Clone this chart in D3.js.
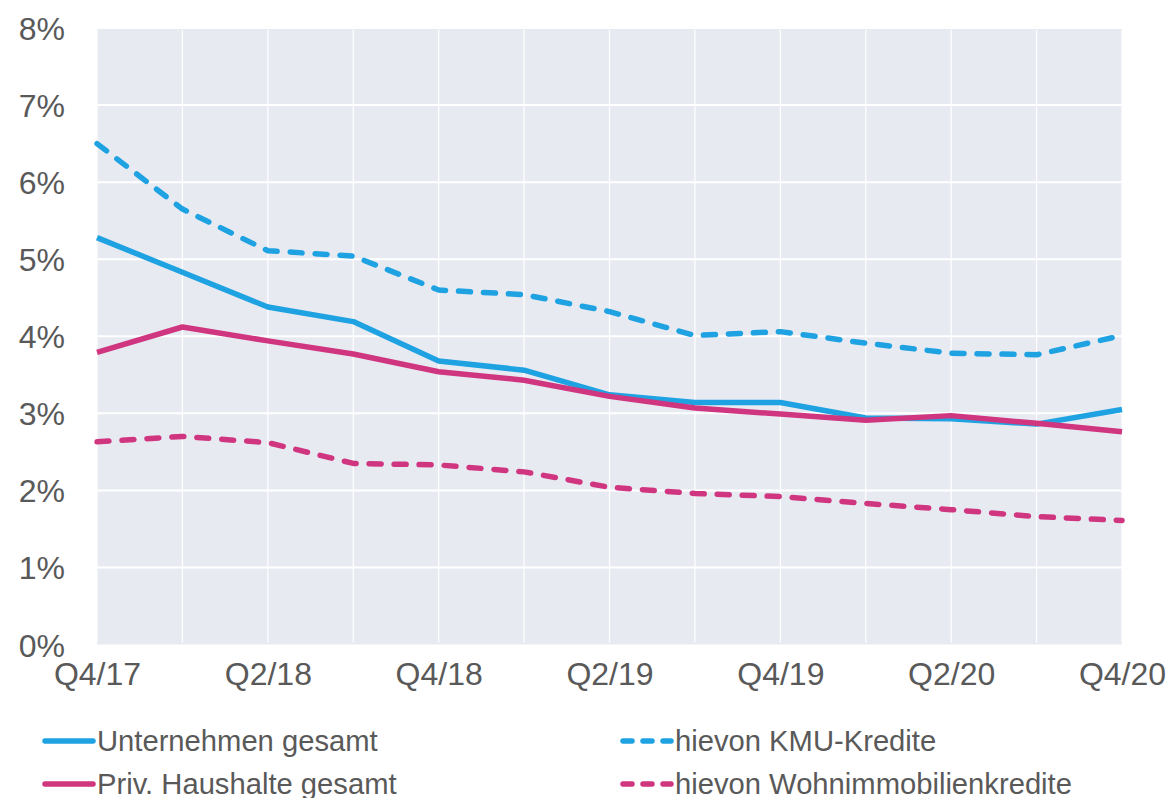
<!DOCTYPE html>
<html><head><meta charset="utf-8">
<script src="https://cdn.jsdelivr.net/npm/d3@7"></script>
<style>
html,body{margin:0;padding:0;background:#fff;}
svg{display:block;font-family:"Liberation Sans",Arial,sans-serif;}
</style></head>
<body><svg id="c" width="1171" height="798"></svg>
<script>
const categories = ["Q4/17","Q1/18","Q2/18","Q3/18","Q4/18","Q1/19","Q2/19","Q3/19","Q4/19","Q1/20","Q2/20","Q3/20","Q4/20"];
const tickLabels = ["Q4/17","Q2/18","Q4/18","Q2/19","Q4/19","Q2/20","Q4/20"];
const yTicks = [0,1,2,3,4,5,6,7,8];
const unternehmen = [5.28,4.83,4.38,4.19,3.68,3.56,3.24,3.14,3.14,2.94,2.93,2.86,3.05];
const haushalte   = [3.79,4.12,3.94,3.77,3.54,3.43,3.22,3.07,2.99,2.91,2.97,2.87,2.76];
const kmu         = [6.50,5.65,5.11,5.04,4.60,4.54,4.32,4.01,4.06,3.91,3.78,3.76,4.01];
const wohn        = [2.63,2.70,2.62,2.35,2.33,2.24,2.04,1.96,1.92,1.83,1.75,1.66,1.61];
const seriesNames = ["Unternehmen gesamt","hievon KMU-Kredite","Priv. Haushalte gesamt","hievon Wohnimmobilienkredite"];

const BLUE = "#1fa2e2", PINK = "#d0357f", TXT = "#595959";
const svg = d3.select("#c");
const L = 97, R = 1122, T = 28, B = 644.5;
const x = d3.scalePoint().domain(categories).range([L, R]);
const y = d3.scaleLinear().domain([0, 8]).range([B, T]);

svg.append("rect").attr("x", L).attr("y", T).attr("width", R - L).attr("height", B - T).attr("fill", "#e8eaf2");

// vertical gridlines
svg.append("g").selectAll("line").data(categories).join("line")
  .attr("x1", d => x(d)).attr("x2", d => x(d)).attr("y1", T + 2).attr("y2", B - 2)
  .attr("stroke", "#fff").attr("stroke-width", 1.2);
// horizontal gridlines
svg.append("g").selectAll("line").data(yTicks.filter(v => v > 0)).join("line")
  .attr("x1", L).attr("x2", R).attr("y1", d => y(d)).attr("y2", d => y(d))
  .attr("stroke", "#fff").attr("stroke-width", 2);

// y axis
const yAxis = d3.axisLeft(y).tickValues(yTicks).tickFormat(d => d + "%").tickSize(0).tickPadding(0);
const gy = svg.append("g").attr("transform", `translate(65,0)`).call(yAxis);
gy.select(".domain").remove();
gy.selectAll("text").attr("fill", TXT).attr("font-size", 32).attr("font-family", "Liberation Sans, Arial, sans-serif").attr("dy", "0.36em");

// x axis
const xAxis = d3.axisBottom(x).tickValues(tickLabels).tickSize(0).tickPadding(0);
const gx = svg.append("g").attr("transform", `translate(0,${B})`).call(xAxis);
gx.select(".domain").remove();
gx.selectAll("text").attr("fill", TXT).attr("font-size", 32).attr("font-family", "Liberation Sans, Arial, sans-serif").attr("dy", "1.28em");

const line = d3.line().x((d, i) => x(categories[i])).y(d => y(d));
const series = [
  {v: kmu, c: BLUE, dash: "12,13"},
  {v: wohn, c: PINK, dash: "12,13"},
  {v: unternehmen, c: BLUE, dash: null},
  {v: haushalte, c: PINK, dash: null}
];
svg.append("g").selectAll("path").data(series).join("path")
  .attr("d", d => line(d.v)).attr("fill", "none").attr("stroke", d => d.c)
  .attr("stroke-width", 5.5).attr("stroke-linejoin", "round")
  .attr("stroke-linecap", d => d.dash ? "round" : "butt")
  .attr("stroke-dasharray", d => d.dash);

// legend
const leg = [
  {name: seriesNames[0], c: BLUE, dash: null, lx: 45, ly: 741},
  {name: seriesNames[1], c: BLUE, dash: "9,11", lx: 623, ly: 741},
  {name: seriesNames[2], c: PINK, dash: null, lx: 45, ly: 784},
  {name: seriesNames[3], c: PINK, dash: "9,11", lx: 623, ly: 784}
];
const lg = svg.append("g").selectAll("g").data(leg).join("g");
lg.append("line").attr("x1", d => d.lx).attr("x2", d => d.lx + 48).attr("y1", d => d.ly).attr("y2", d => d.ly)
  .attr("stroke", d => d.c).attr("stroke-width", 5.5).attr("stroke-linecap", "round")
  .attr("stroke-dasharray", d => d.dash);
lg.append("text").attr("x", d => d.lx + 52).attr("y", d => d.ly + 10).text(d => d.name)
  .attr("fill", TXT).attr("font-size", 29.2);
</script></body></html>
